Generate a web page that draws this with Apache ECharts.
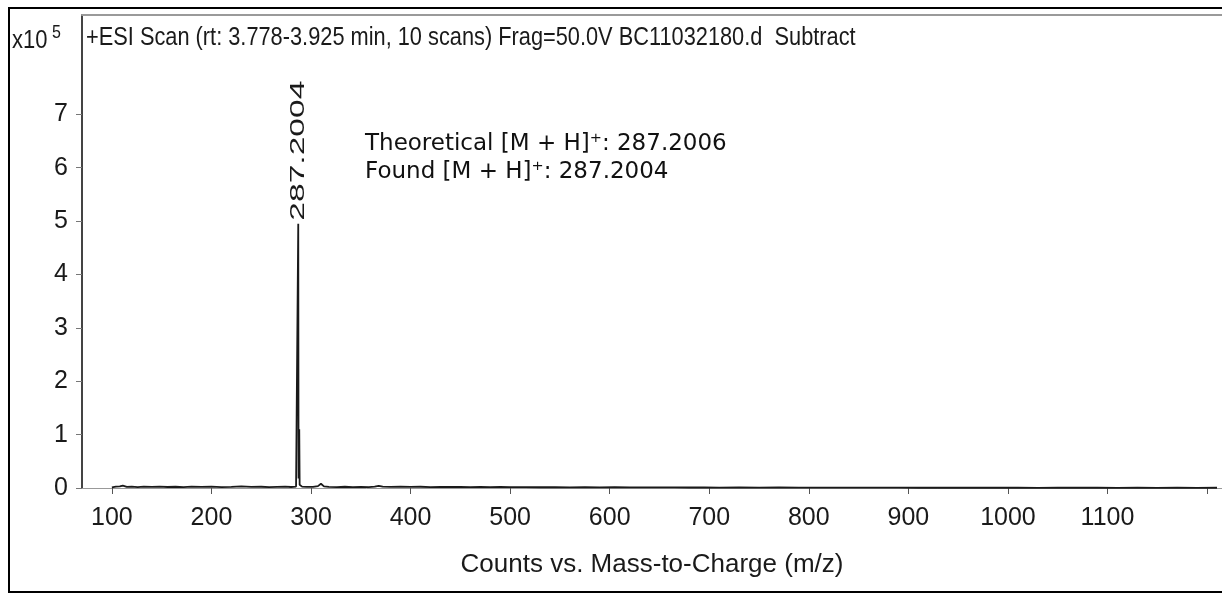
<!DOCTYPE html>
<html>
<head>
<meta charset="utf-8">
<script src="https://cdn.jsdelivr.net/npm/echarts@6/dist/echarts.min.js"></script>
<style>
html,body{margin:0;padding:0;background:#fff;}
#chart{width:1222px;height:594px;}
</style>
</head>
<body>
<div id="chart"></div>
<script>
// ---- texts ----
const titleText = '+ESI Scan (rt: 3.778-3.925 min, 10 scans) Frag=50.0V BC11032180.d  Subtract';
const xAxisTitle = 'Counts vs. Mass-to-Charge (m/z)';
const yScaleText = 'x10';
const yScaleExp = '5';
const annotationLines = ['Theoretical [M + H]\u207A: 287.2006', 'Found [M + H]\u207A: 287.2004'];
const peakLabel = '287.2004';
const peakMz = 287.2;

// ---- ticks ----
const xTickValues = [100, 200, 300, 400, 500, 600, 700, 800, 900, 1000, 1100, 1200];
const xTickLabels = [100, 200, 300, 400, 500, 600, 700, 800, 900, 1000, 1100];
const yTickLabels = [0, 1, 2, 3, 4, 5, 6, 7];   // in units of 10^5
const yUnit = 100000;
const xMin = 70, xMax = 1215;
const yMax = 886000;

// ---- spectrum (m/z, counts) ----
const mz = [100, 104, 108, 111, 115, 120, 126, 132, 140, 148, 156, 164, 172, 180, 190, 200, 210, 220, 230, 240,
  250, 258, 266, 274, 280, 285, 286.8, 287.2, 287.5, 288.2, 288.6, 291, 296, 302, 307, 310, 313, 318, 326, 334,
  342, 350, 358, 364, 368, 372, 380, 390, 400, 410, 420, 430, 440, 450, 460, 470, 480, 490, 500, 515,
  530, 545, 560, 575, 590, 605, 620, 635, 650, 665, 680, 695, 710, 730, 750, 770, 790, 810, 830, 850,
  870, 890, 910, 930, 950, 970, 990, 1010, 1030, 1050, 1070, 1090, 1110, 1130, 1150, 1170, 1190, 1210];
const counts = [1200, 2500, 3000, 4500, 2200, 2600, 1800, 2400, 2000, 2700, 1900, 2300, 1700, 2600, 2000, 2400, 1800, 2200, 2900, 2000,
  2300, 1700, 2100, 2500, 1900, 2600, 6000, 495000, 18000, 110000, 6000, 2500, 2000, 2200, 3500, 8000, 3000, 2000, 1800, 2300,
  1700, 2100, 1800, 2400, 4200, 2500, 2100, 2600, 2000, 2300, 1800, 2200, 1900, 2100, 1700, 2000, 1600, 1900, 1500, 1800,
  1400, 1700, 1300, 1600, 1200, 1500, 1100, 1300, 1000, 1200, 900, 1100, 800, 1000, 700, 900, 700, 800, 600, 800,
  600, 700, 500, 700, 500, 600, 500, 600, 400, 600, 500, 600, 400, 500, 400, 500, 400, 500];

const data = mz.map((m, i) => [m, counts[i]]);
const peakIndex = mz.indexOf(peakMz);

const FONT = "'Liberation Sans', Arial, sans-serif";

const chart = echarts.init(document.getElementById('chart'), null, {renderer: 'canvas'});

const option = {
  animation: false,
  backgroundColor: '#fff',
  grid: {left: 82, right: 0, top: 15, bottom: 106},
  xAxis: [
    { // baseline at 0
      type: 'value', min: xMin, max: xMax, position: 'bottom',
      axisLine: {show: true, onZero: false, lineStyle: {color: '#999', width: 1}},
      axisTick: {show: false}, axisLabel: {show: false}, splitLine: {show: false}
    },
    { // ticks + labels, offset below
      type: 'value', min: xMin, max: xMax, position: 'bottom', offset: 6,
      axisLine: {show: false},
      axisTick: {show: true, length: 6, customValues: xTickValues, lineStyle: {color: '#555', width: 1}},
      axisLabel: {show: true, customValues: xTickLabels, margin: 12, formatter: v => String(v),
        fontFamily: FONT, fontSize: 25, color: '#1a1a1a'},
      splitLine: {show: false},
      name: xAxisTitle, nameLocation: 'middle', nameGap: 58,
      nameTextStyle: {fontFamily: FONT, fontSize: 26, color: '#1a1a1a'}
    },
    { // top frame line
      type: 'value', min: xMin, max: xMax, position: 'top',
      axisLine: {show: true, lineStyle: {color: '#9a9a9a', width: 2}},
      axisTick: {show: false}, axisLabel: {show: false}, splitLine: {show: false}
    }
  ],
  yAxis: {
    type: 'value', min: 0, max: yMax,
    axisLine: {show: true, lineStyle: {color: '#444', width: 2}},
    axisTick: {show: true, length: 6, customValues: yTickLabels.map(v => v * yUnit), lineStyle: {color: '#777', width: 1}},
    axisLabel: {show: true, customValues: yTickLabels.map(v => v * yUnit), margin: 14,
      formatter: v => String(Math.round(v / yUnit)), fontFamily: FONT, fontSize: 25, color: '#1a1a1a'},
    splitLine: {show: false}
  },
  series: [{
    type: 'line', xAxisIndex: 0, yAxisIndex: 0,
    data: data, showSymbol: false, symbol: 'none',
    lineStyle: {color: '#1a1a1a', width: 1.8},
    z: 3
  }],
  graphic: [
    {id: 'frame', type: 'rect', shape: {x: 9, y: 8, width: 1250, height: 584}, style: {fill: 'none', stroke: '#000', lineWidth: 2}, z: 0, silent: true},
    {id: 'title', type: 'text', x: 86, y: 38, scaleX: 0.99, scaleY: 1.15,
      style: {text: titleText, font: "22px " + FONT, fill: '#1a1a1a', textVerticalAlign: 'middle'}},
    {id: 'x10', type: 'text', x: 12, y: 41, scaleY: 1.15,
      style: {text: yScaleText, font: "22px " + FONT, fill: '#1a1a1a', textVerticalAlign: 'middle'}},
    {id: 'exp', type: 'text', x: 52, y: 33, scaleY: 1.15,
      style: {text: yScaleExp, font: "16px " + FONT, fill: '#1a1a1a', textVerticalAlign: 'middle'}},
    {id: 'ann1', type: 'text', x: 365, y: 144, style: {text: annotationLines[0], font: "23px 'DejaVu Sans', Verdana, sans-serif", fill: '#111', textVerticalAlign: 'middle'}},
    {id: 'ann2', type: 'text', x: 365, y: 172, style: {text: annotationLines[1], font: "23px 'DejaVu Sans', Verdana, sans-serif", fill: '#111', textVerticalAlign: 'middle'}}
  ]
};
chart.setOption(option);

// peak label placed through the chart's own scales
const p = chart.convertToPixel({xAxisIndex: 0, yAxisIndex: 0}, data[peakIndex]);
chart.setOption({
  graphic: [{
    id: 'peakLabel', type: 'text', x: p[0], y: p[1] - 3, rotation: Math.PI / 2, scaleX: 1.6,
    style: {text: peakLabel, font: "21px " + FONT, fill: '#1a1a1a', textAlign: 'left', textVerticalAlign: 'middle'}
  }]
});
</script>
</body>
</html>
